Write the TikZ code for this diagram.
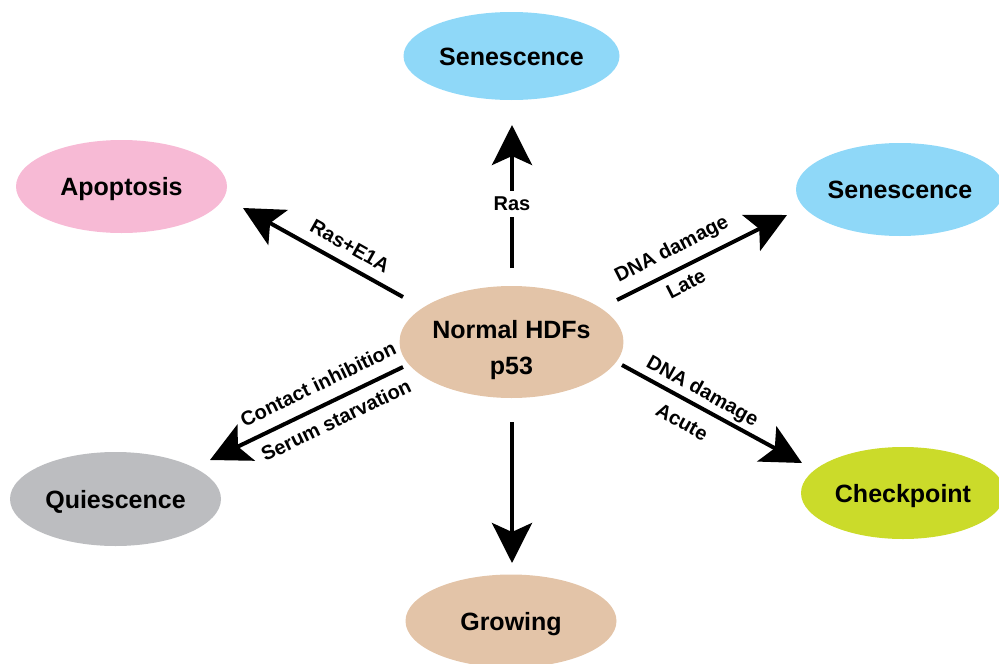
\documentclass[tikz,border=0pt]{standalone}
\usepackage{fontspec}
\setmainfont{Liberation Sans}
\usetikzlibrary{shapes.geometric,arrows.meta}
\definecolor{cblue}{HTML}{8FD8F8}
\definecolor{cpink}{HTML}{F7BAD5}
\definecolor{cgray}{HTML}{BCBDC0}
\definecolor{cgreen}{HTML}{CBDB2A}
\definecolor{ctan}{HTML}{E3C4A8}
\begin{document}
\begin{tikzpicture}[x=1pt,y=-1pt,
  state/.style={ellipse, draw=none, inner sep=0pt, minimum width=211pt, minimum height=93pt,
    font=\fontsize{25}{33}\selectfont\bfseries, text height=18pt, text depth=0pt},
  arr/.style={line width=4pt, -{Stealth[length=40pt,width=40pt,inset=9pt]}},
  lbl/.style={font=\fontsize{20}{24}\selectfont\bfseries, inner sep=0pt}]
\useasboundingbox (0,0) rectangle (999,664);
\clip (0,0) rectangle (999,664);
% states
\node[ellipse, draw=none, inner sep=0pt, minimum width=211pt, minimum height=112pt,
  fill=ctan, font=\fontsize{25}{33}\selectfont\bfseries] (center) at (511.5,342)
  {\raisebox{-8pt}[\height][\depth]{\begin{tabular}{@{}c@{}}Normal HDFs\\[3pt]p53\end{tabular}}};
\node[state, fill=cblue, minimum width=216pt, minimum height=88pt] (senT) at (511.5,56) {Senescence};
\node[state, fill=cpink] (apo) at (121.5,186.5) {Apoptosis};
\node[state, fill=cblue, minimum width=208pt] (senR) at (900,189.5) {Senescence};
\node[state, fill=cgray, minimum height=94pt] (qui) at (115.5,499) {Quiescence};
\node[state, fill=cgreen, minimum width=204pt, minimum height=92pt] (chk) at (903,493) {Checkpoint};
\node[state, fill=ctan] (grow) at (511,621) {Growing};
% arrow end points
\coordinate (uS) at (512,268);  \coordinate (uE) at (512,125);
\coordinate (dS) at (512,422);  \coordinate (dE) at (512,563);
\coordinate (ulS) at (403,297); \coordinate (ulE) at (243,208);
\coordinate (urS) at (617,300); \coordinate (urE) at (787,215);
\coordinate (dlS) at (403,367); \coordinate (dlE) at (210,460);
\coordinate (drS) at (622,365); \coordinate (drE) at (802,463);
% arrows
\draw[arr] (uS) -- (uE);
\draw[arr] (dS) -- (dE);
\draw[arr] (ulS) -- (ulE);
\draw[arr] (urS) -- (urE);
\draw[arr] (dlS) -- (dlE);
\draw[arr] (drS) -- (drE);
% labels
\node[lbl, fill=white, inner ysep=6pt, inner xsep=2pt] (lras) at (512,204) {Ras};
\node[lbl, rotate=-29.4] (lrase) at (350,246) {Ras+E1A};
\node[lbl, rotate=27.1] (ldnal) at (672,250) {DNA damage};
\node[lbl, rotate=27.1] (llate) at (686,284) {Late};
\node[lbl, rotate=-29.1] (ldnaa) at (702,392) {DNA damage};
\node[lbl, rotate=-29.1] (lacute) at (682,422) {Acute};
\node[lbl, rotate=25.7] (lcont) at (318,384) {Contact inhibition};
\node[lbl, rotate=25.7] (lserum) at (336,420) {Serum starvation};
\end{tikzpicture}
\end{document}
